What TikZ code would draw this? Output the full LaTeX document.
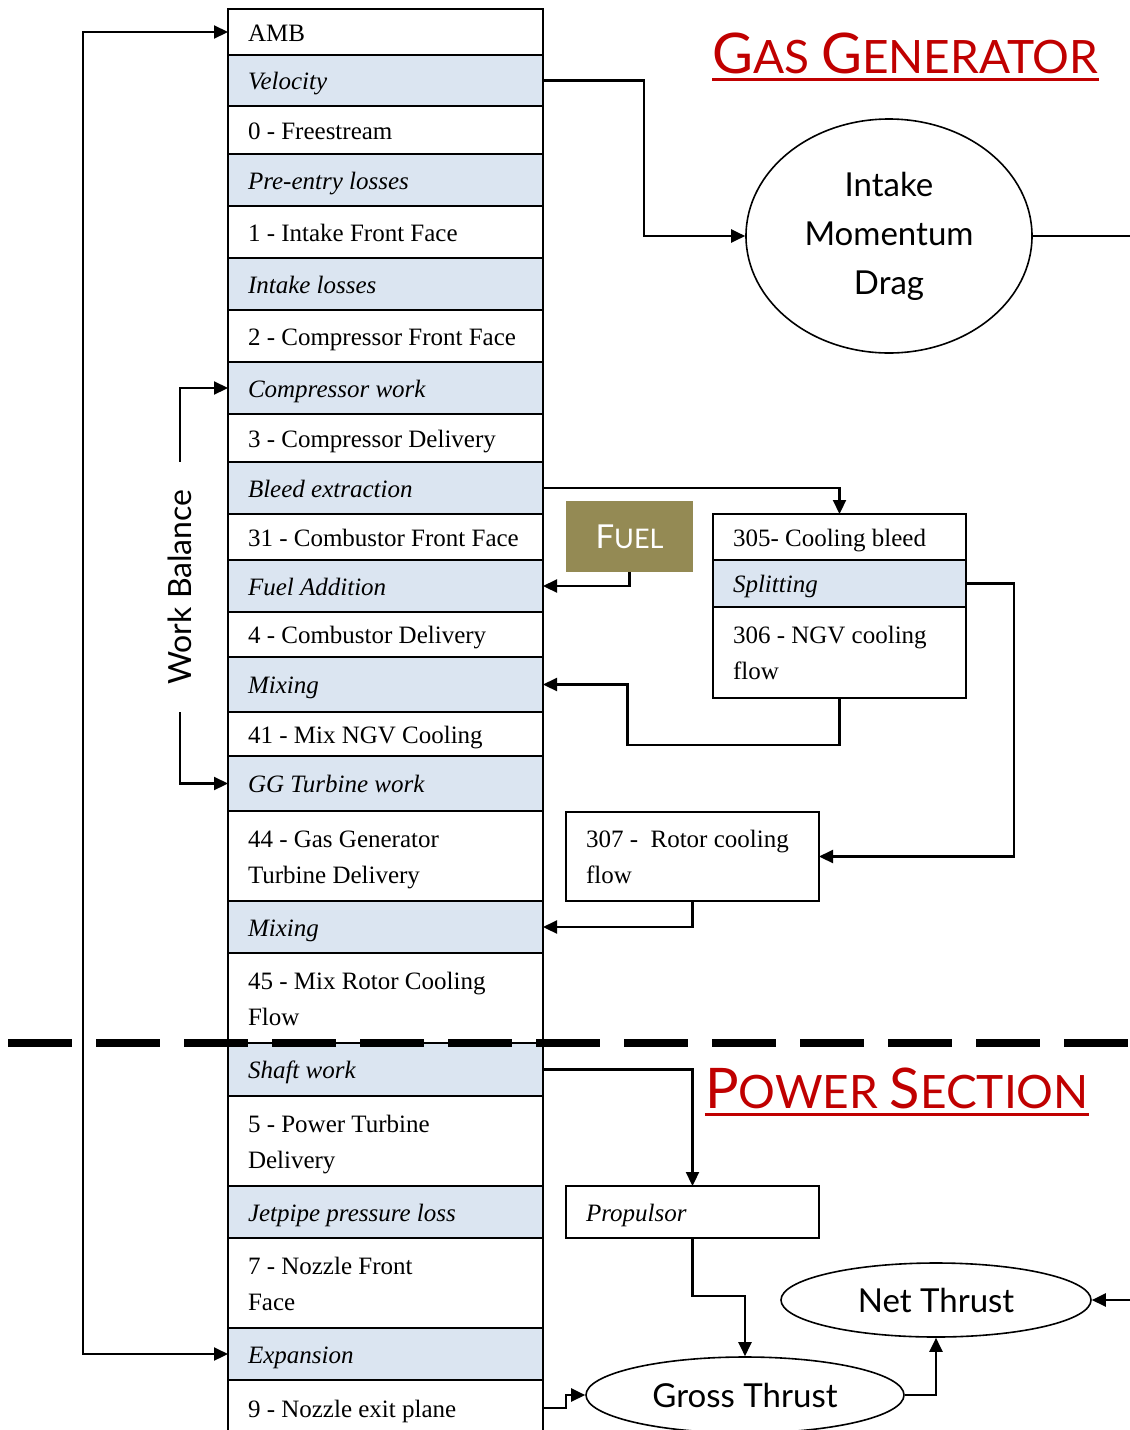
\documentclass[tikz,border=0pt]{standalone}
\usepackage{fontspec}
\setmainfont{Liberation Serif}
\newfontfamily\gill{Lato}
\usepackage{xcolor}
\usetikzlibrary{arrows.meta,shapes.geometric}
\definecolor{rowblue}{HTML}{DBE5F1}
\definecolor{fuelolive}{HTML}{948A54}
\definecolor{titlered}{HTML}{C00000}
\newcommand\capbig[1]{{\fontsize{56}{56}\selectfont #1}}
\newcommand\rowstrut{\rule[-6pt]{0pt}{30pt}}

\begin{document}
\begin{tikzpicture}[x=1pt,y=-1pt]
            \tikzset{
                station/.style={draw, line width=1.6pt, anchor=north west, inner xsep=20pt, inner ysep=0pt,
                    outer sep=0pt, text width=275pt, align=flush left, font=\fontsize{25}{36}\selectfont,
                    execute at begin node=\rowstrut, execute at end node=\rowstrut},
                process/.style={station, fill=rowblue, font=\fontsize{25}{36}\selectfont\itshape},
                sidebox/.style={station, text width=213pt},
                sideproc/.style={sidebox, fill=rowblue, font=\fontsize{25}{36}\selectfont\itshape},
                bubble/.style={draw, ellipse, line width=1.6pt, inner sep=0pt, align=center,
                    font=\gill\fontsize{33}{49}\selectfont},
                flow/.style={line width=2.2pt, -{Triangle[length=14pt,width=13pt]}},
                loopflow/.style={line width=2.2pt, {Triangle[length=14pt,width=13pt]}-{Triangle[length=14pt,width=13pt]}},
                title/.style={anchor=base, inner xsep=0pt, text=titlered, font=\gill\fontsize{46}{46}\selectfont},
                divider/.style={line width=8pt, dash pattern=on 64pt off 24pt}
            }
            \useasboundingbox[fill=white] (0,0) rectangle (1130,1430);

            \node[station, minimum height=46pt] (amb) at (228,9) {AMB};
            \node[process, minimum height=51pt] (vel) at (228,55) {Velocity};
            \node[station, minimum height=48pt] (st0) at (228,106) {0 - Freestream};
            \node[process, minimum height=52pt] (pre) at (228,154) {Pre-entry losses};
            \node[station, minimum height=52pt] (st1) at (228,206) {1 - Intake Front Face};
            \node[process, minimum height=52pt] (intl) at (228,258) {Intake losses};
            \node[station, minimum height=52pt] (st2) at (228,310) {2 - Compressor Front Face};
            \node[process, minimum height=52pt] (cw) at (228,362) {Compressor work};
            \node[station, minimum height=48pt] (st3) at (228,414) {3 - Compressor Delivery};
            \node[process, minimum height=52pt] (bleed) at (228,462) {Bleed extraction};
            \node[station, minimum height=46pt] (st31) at (228,514) {31 - Combustor Front Face};
            \node[process, minimum height=52pt] (fadd) at (228,560) {Fuel Addition};
            \node[station, minimum height=45pt] (st4) at (228,612) {4 - Combustor Delivery};
            \node[process, minimum height=55pt] (mixa) at (228,657) {Mixing};
            \node[station, minimum height=44pt] (st41) at (228,712) {41 - Mix NGV Cooling};
            \node[process, minimum height=55pt] (ggw) at (228,756) {GG Turbine work};
            \node[station, minimum height=90pt] (st44) at (228,811) {44 - Gas Generator\\Turbine Delivery};
            \node[process, minimum height=52pt] (mixb) at (228,901) {Mixing};
            \node[station, minimum height=90pt] (st45) at (228,953) {45 - Mix Rotor Cooling\\Flow};
            \node[process, minimum height=53pt] (shaft) at (228,1043) {Shaft work};
            \node[station, minimum height=90pt] (st5) at (228,1096) {5 - Power Turbine\\Delivery};
            \node[process, minimum height=52pt] (jet) at (228,1186) {Jetpipe pressure loss};
            \node[station, minimum height=90pt] (st7) at (228,1238) {7 - Nozzle Front\\Face};
            \node[process, minimum height=52pt] (expn) at (228,1328) {Expansion};
            \node[station, minimum height=56pt] (st9) at (228,1380) {9 - Nozzle exit plane};

            \node[bubble, minimum width=286pt, minimum height=234pt] (imd) at (889,236) {Intake\\Momentum\\Drag};
            \coordinate (imdout) at (1130,236);

            \node[fill=fuelolive, text=white, minimum width=127pt, minimum height=71pt, inner sep=0pt,
                font=\gill\fontsize{27}{27}\selectfont] (fuel) at (629.5,536.5) {{\fontsize{33}{33}\selectfont F}UEL};

            \node[sidebox, minimum height=46pt] (cb) at (713,514) {305- Cooling bleed};
            \node[sideproc, minimum height=47pt] (split) at (713,560) {Splitting};
            \node[sidebox, minimum height=91pt] (ngv) at (713,607) {306 - NGV cooling\\flow};
            \node[sidebox, minimum height=89pt] (rc) at (566,812) {307 -\ \ Rotor cooling\\flow};
            \node[sidebox, minimum height=52pt, font=\fontsize{25}{36}\selectfont\itshape] (prop) at (566,1186) {Propulsor};

            \node[bubble, minimum width=318pt, minimum height=76pt] (gross) at (745,1395) {Gross Thrust};
            \node[bubble, minimum width=310pt, minimum height=74pt] (net) at (936,1300) {Net Thrust};
            \coordinate (netin) at (1130,1300);

            \node[title] (ggtitle) at (905.5,73) {\capbig{G}AS \capbig{G}ENERATOR};
            \node[title] (pstitle) at (897,1108) {\capbig{P}OWER \capbig{S}ECTION};
            \draw[titlered, line width=3pt] ([yshift=-6pt]ggtitle.base west) -- ([yshift=-6pt]ggtitle.base east);
            \draw[titlered, line width=3pt] ([yshift=-6pt]pstitle.base west) -- ([yshift=-6pt]pstitle.base east);

            \node[rotate=90, inner sep=0pt, minimum width=250pt, font=\gill\fontsize{32}{32}\selectfont] (wb) at (180,587) {Work Balance};

            \draw[flow] (vel.east) -- ++(101,0) |- (imd.west);
            \draw[line width=2.2pt] (imd.east) -- (imdout);
            \draw[loopflow] (amb.west) -- ++(-145,0) |- (expn.west);
            \draw[flow] (wb.east) |- (cw.west);
            \draw[flow] (wb.west) |- (ggw.west);
            \draw[flow] (fuel.south) |- (fadd.east);
            \draw[flow] (bleed.east) -| (cb.north);
            \draw[flow] (split.east) -- ++(48,0) |- (rc.east);
            \draw[flow] (ngv.south) -- ++(0,47) -- ++(-212,0) |- (mixa.east);
            \draw[flow] (rc.south) |- (mixb.east);
            \draw[flow] (shaft.east) -| (prop.north);
            \draw[flow] (prop.south) -- ++(0,58) -| (gross.north);
            \draw[flow] (st9.east) -- ++(23,0) |- (gross.west);
            \draw[flow] (gross.east) -| (net.south);
            \draw[flow] (netin) -- (net.east);

            \coordinate (divl) at (8,1043);
            \coordinate (divr) at (1140,1043);
            \draw[divider] (divl) -- (divr);
\end{tikzpicture}
\end{document}
